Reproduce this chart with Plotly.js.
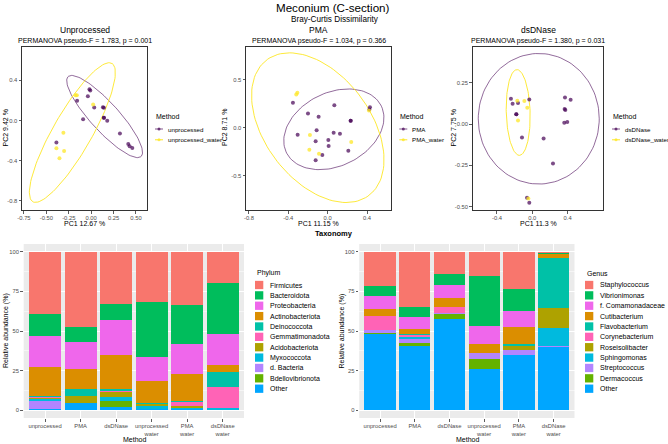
<!DOCTYPE html>
<html>
<head>
<meta charset="utf-8">
<script src="https://cdn.plot.ly/plotly-3.0.1.min.js"></script>
<style>
	html, body { margin: 0; padding: 0; background: #fff; }
	#chart { width: 668px; height: 444px; }
</style>
</head>
<body>
<div id="chart"></div>
<script>
const W = 668;
const H = 444;
const FONT = '"Liberation Sans", Arial, sans-serif';

// PCoA scores
const unprocessed_pc1 = [-0.019, -0.010, -0.037, -0.157, 0.131, 0.034, 0.142, -0.090, 0.142, 0.142, 0.179, 0.321, 0.414, 0.429, 0.459, -0.388];
const unprocessed_pc2 = [0.313, 0.300, 0.243, 0.197, 0.133, 0.130, 0.127, 0.013, 0.027, 0.027, -0.003, -0.130, -0.233, -0.257, -0.273, -0.220];
const unprocessed_water_pc1 = [-0.175, -0.160, 0.022, -0.310, -0.388, -0.302, -0.354];
const unprocessed_water_pc2 = [0.253, 0.253, 0.160, -0.123, -0.277, -0.303, -0.377];

const pma_pc1 = [-0.353, -0.200, -0.092, 0.068, 0.234, 0.234, 0.430, 0.424, -0.305, -0.112, -0.122, 0.007, 0.061, 0.125, 0.010, -0.054, -0.122, 0.210];
const pma_pc2 = [0.260, 0.149, 0.115, 0.233, 0.073, 0.073, 0.212, 0.190, -0.073, -0.028, -0.142, -0.128, -0.052, -0.062, -0.191, -0.285, -0.340, -0.240];
const pma_water_pc1 = [-0.308, -0.319, -0.180, -0.186, -0.088, 0.240, 0.420];
const pma_water_pc2 = [0.365, 0.347, -0.076, -0.229, -0.271, -0.149, 0.180];

const dsdnase_pc1 = [-0.242, -0.223, -0.162, -0.034, -0.181, -0.181, -0.117, 0.128, 0.370, 0.434, 0.366, 0.374, 0.362, 0.396, 0.234, -0.060, -0.034];
const dsdnase_pc2 = [0.153, 0.123, 0.127, 0.149, 0.060, 0.060, -0.081, -0.087, 0.161, 0.147, 0.091, 0.085, 0.008, 0.012, -0.238, -0.446, -0.476];
const dsdnase_water_pc1 = [-0.170, -0.090, -0.057, -0.162, -0.045];
const dsdnase_water_pc2 = [0.141, 0.139, 0.099, 0.022, -0.450];

// 95% ellipses: [centre pc1, centre pc2, semi-axis a, semi-axis b, angle deg]
const ellipse_unprocessed = [0.15, 0.04, 0.57, 0.15, -44];
const ellipse_unprocessed_water = [-0.21, -0.12, 0.82, 0.21, 57];
const ellipse_pma = [0.063, -0.017, 0.54, 0.38, 28];
const ellipse_pma_water = [-0.10, 0.0, 0.877, 0.541, -54.5];
const ellipse_dsdnase = [0.073, 0.032, 0.685, 0.395, 0];
const ellipse_dsdnase_water = [-0.16, 0.07, 0.26, 0.135, -86];

// taxonomy bars
const methods = ['unprocessed', 'PMA', 'dsDNase', 'unprocessed water', 'PMA water', 'dsDNase water'];
const method_labels = ['unprocessed', 'PMA', 'dsDNase', 'unprocessed<br>water', 'PMA<br>water', 'dsDNase<br>water'];

const phylum_names = ['Firmicutes', 'Bacteroidota', 'Proteobacteria', 'Actinobacteriota', 'Deinococcota', 'Gemmatimonadota', 'Acidobacteriota', 'Myxococcota', 'd. Bacteria', 'Bdellovibrionota', 'Other'];
const phylum_values = [
	[39.4, 47.4, 33.1, 31.9, 33.5, 19.9],
	[13.5, 9.6, 10.1, 34.8, 24.8, 32.1],
	[20.0, 17.2, 22.2, 14.6, 19.1, 19.3],
	[18.2, 12.4, 21.2, 14.5, 16.9, 4.6],
	[0.9, 4.2, 1.6, 0.3, 0.7, 9.8],
	[0.6, 0.2, 0.3, 0.2, 2.5, 12.8],
	[0.6, 4.2, 3.1, 0.8, 1.2, 0],
	[0.8, 0, 2.5, 2.1, 0.5, 1.2],
	[5.2, 0.6, 0, 0, 0, 0],
	[0, 0, 4.0, 0, 0, 0],
	[0.8, 4.2, 1.9, 0.8, 0.8, 0.3]
];

const genus_names = ['Staphylococcus', 'Vibrionimonas', 'f. Comamonadaceae', 'Cutibacterium', 'Flavobacterium', 'Corynebacterium', 'Roseisolibacter', 'Sphingomonas', 'Streptococcus', 'Dermacoccus', 'Other'];
const genus_values = [
	[21.6, 35.0, 14.0, 15.3, 23.5, 0.6],
	[6.3, 6.3, 7.0, 31.5, 13.6, 0.5],
	[7.9, 7.5, 8.4, 11.3, 10.1, 0.4],
	[4.7, 3.0, 5.2, 5.6, 11.1, 2.3],
	[0, 0.5, 0, 0, 1.0, 31.4],
	[8.6, 1.2, 3.8, 0, 0, 0],
	[0, 0.5, 0, 0, 2.5, 13.0],
	[0.5, 0.8, 0, 0, 0, 11.1],
	[1.4, 2.5, 1.0, 4.3, 3.6, 0.9],
	[0.8, 2.4, 2.9, 6.2, 0, 0],
	[48.2, 40.3, 57.7, 25.8, 34.6, 39.8]
];

const taxa_colors = ['#F8766D', '#00BD5C', '#EF67EB', '#DB8E00', '#00C1A7', '#FF63B6', '#AEA200', '#00BADE', '#B385FF', '#64B200', '#00A6FF'];

const PURPLE = 'rgba(68,1,84,0.7)';
const YELLOW = 'rgba(253,231,37,0.75)';

function px(x){ return x / W; }
function py(y){ return 1 - y / H; }

function ellipsePoints(p){
	var xs = [], ys = [];
	var th = p[4] * Math.PI / 180;
	for(var i = 0; i <= 120; i++){
		var t = 2 * Math.PI * i / 120;
		var u = p[2] * Math.cos(t), v = p[3] * Math.sin(t);
		xs.push(p[0] + u * Math.cos(th) - v * Math.sin(th));
		ys.push(p[1] + u * Math.sin(th) + v * Math.cos(th));
	}
	return [xs, ys];
}

function pcoaTraces(n, pts1, pts2, ell1, ell2){
	var xa = n == 1 ? 'x' : 'x' + n;
	var ya = n == 1 ? 'y' : 'y' + n;
	var e1 = ellipsePoints(ell1), e2 = ellipsePoints(ell2);
	return [
		{x: e1[0], y: e1[1], xaxis: xa, yaxis: ya, mode: 'lines', type: 'scatter', line: {color: 'rgba(68,1,84,0.65)', width: 0.9}, hoverinfo: 'skip'},
		{x: e2[0], y: e2[1], xaxis: xa, yaxis: ya, mode: 'lines', type: 'scatter', line: {color: '#FDE725', width: 0.9}, hoverinfo: 'skip'},
		{x: pts1[0], y: pts1[1], xaxis: xa, yaxis: ya, mode: 'markers', type: 'scatter', marker: {color: PURPLE, size: 4}},
		{x: pts2[0], y: pts2[1], xaxis: xa, yaxis: ya, mode: 'markers', type: 'scatter', marker: {color: YELLOW, size: 4}}
	];
}

function barTraces(n, names, values){
	var traces = [];
	for(var i = names.length - 1; i >= 0; i--){
		traces.push({
			x: methods,
			y: values[i],
			name: names[i],
			type: 'bar',
			xaxis: 'x' + n,
			yaxis: 'y' + n,
			marker: {color: taxa_colors[i], line: {width: 0}}
		});
	}
	return traces;
}

function pcoaAxis(x0, x1, range, vals, texts, anchor){
	return {
		domain: [px(x0), px(x1)],
		range: range,
		anchor: anchor,
		tickvals: vals,
		ticktext: texts,
		showgrid: false,
		zeroline: false,
		showline: true,
		mirror: true,
		linecolor: '#333333',
		linewidth: 1,
		ticks: 'outside',
		ticklen: 2.5,
		tickwidth: 0.8,
		tickcolor: '#333333',
		tickfont: {size: 5.8, color: '#4D4D4D'}
	};
}

function pcoaYAxis(y0, y1, range, vals, texts, anchor){
	var a = pcoaAxis(0, 0, range, vals, texts, anchor);
	a.domain = [py(y1), py(y0)];
	return a;
}

const traces = [].concat(
	pcoaTraces(1, [unprocessed_pc1, unprocessed_pc2], [unprocessed_water_pc1, unprocessed_water_pc2], ellipse_unprocessed, ellipse_unprocessed_water),
	pcoaTraces(2, [pma_pc1, pma_pc2], [pma_water_pc1, pma_water_pc2], ellipse_pma, ellipse_pma_water),
	pcoaTraces(3, [dsdnase_pc1, dsdnase_pc2], [dsdnase_water_pc1, dsdnase_water_pc2], ellipse_dsdnase, ellipse_dsdnase_water),
	barTraces(4, phylum_names, phylum_values),
	barTraces(5, genus_names, genus_values)
);

function barXAxis(x0, x1, anchor){
	return {
		domain: [px(x0), px(x1)],
		anchor: anchor,
		type: 'category',
		range: [-0.6, 5.6],
		tickvals: methods,
		ticktext: method_labels,
		showgrid: true,
		gridcolor: '#FFFFFF',
		gridwidth: 1,
		zeroline: false,
		showline: false,
		ticks: 'outside',
		ticklen: 2.5,
		tickwidth: 0.8,
		tickcolor: '#333333',
		tickfont: {size: 5.8, color: '#4D4D4D'}
	};
}

function barYAxis(y0, y1, anchor){
	return {
		domain: [py(y1), py(y0)],
		anchor: anchor,
		range: [-5, 105],
		tickvals: [0, 25, 50, 75, 100],
		ticktext: ['0', '25', '50', '75', '100'],
		showgrid: true,
		gridcolor: '#FFFFFF',
		gridwidth: 1,
		minor: {tickvals: [12.5, 37.5, 62.5, 87.5], showgrid: true, gridcolor: '#FFFFFF', gridwidth: 0.5},
		zeroline: false,
		showline: false,
		ticks: 'outside',
		ticklen: 2.5,
		tickwidth: 0.8,
		tickcolor: '#333333',
		tickfont: {size: 5.8, color: '#4D4D4D'}
	};
}

const annotations = [];
const shapes = [];

function addText(text, x, y, size, opts){
	var a = {
		text: text, x: px(x), y: py(y), xref: 'paper', yref: 'paper',
		xanchor: 'center', yanchor: 'middle', showarrow: false,
		font: {family: FONT, size: size, color: '#000000'}
	};
	for(var k in opts){ a[k] = opts[k]; }
	annotations.push(a);
}

// titles
addText('Meconium (C-section)', 333, 7.5, 11.6);
addText('Bray-Curtis Dissimilarity', 334.5, 19.5, 8.2);
addText('Unprocessed', 84.5, 30, 8.5);
addText('PERMANOVA pseudo-F = 1.783, p = 0.001', 84.5, 40.5, 7);
addText('PMA', 318.5, 30, 8.5);
addText('PERMANOVA pseudo-F = 1.034, p = 0.366', 318.5, 40.5, 7);
addText('dsDNase', 538, 30, 8.5);
addText('PERMANOVA pseudo-F = 1.380, p = 0.031', 538, 40.5, 7);
addText('<b>Taxonomy</b>', 334, 234, 7.5);

// axis titles
addText('PC1 12.67 %', 84.5, 224, 7);
addText('PC2 9.42 %', 5.5, 128, 7, {textangle: -90});
addText('PC1 11.15 %', 318.5, 224, 7);
addText('PC2 8.71 %', 225, 128, 7, {textangle: -90});
addText('PC1 11.3 %', 538, 224, 7);
addText('PC2 7.75 %', 453.5, 128, 7, {textangle: -90});
addText('Relative abundance (%)', 6, 331, 7, {textangle: -90});
addText('Method', 134, 439, 7);
addText('Relative abundance (%)', 341.5, 331, 7, {textangle: -90});
addText('Method', 467, 439, 7);

// method legends of the PCoA panels
function methodLegend(x, names){
	addText('Method', x, 116.7, 7, {xanchor: 'left'});
	var cols = ['rgba(68,1,84,0.65)', '#FDE725'];
	for(var i = 0; i < names.length; i++){
		var yy = 129 + i * 10.8;
		shapes.push({type: 'line', xref: 'paper', yref: 'paper', x0: px(x + 1), x1: px(x + 9), y0: py(yy), y1: py(yy), line: {color: cols[i], width: 1}});
		shapes.push({type: 'circle', xref: 'paper', yref: 'paper', x0: px(x + 3.5), x1: px(x + 6.5), y0: py(yy + 1.5), y1: py(yy - 1.5), fillcolor: i == 0 ? PURPLE : YELLOW, line: {width: 0}});
		addText(names[i], x + 12, yy, 6.2, {xanchor: 'left'});
	}
}
methodLegend(154, ['unprocessed', 'unprocessed_water']);
methodLegend(398.3, ['PMA', 'PMA_water']);
methodLegend(611, ['dsDNase', 'dsDNase_water']);

// fill legends of the bar panels
function fillLegend(x, title, names){
	addText(title, x, 273.3, 7, {xanchor: 'left'});
	for(var i = 0; i < names.length; i++){
		var yy = 285 + i * 10.37;
		shapes.push({type: 'rect', xref: 'paper', yref: 'paper', x0: px(x), x1: px(x + 8.3), y0: py(yy + 4.15), y1: py(yy - 4.15), fillcolor: taxa_colors[i], line: {width: 0}});
		addText(names[i], x + 13, yy, 7, {xanchor: 'left'});
	}
}
fillLegend(255, 'Phylum', phylum_names);
fillLegend(585, 'Genus', genus_names);

// grey panels behind the bars
shapes.push({type: 'rect', xref: 'x4 domain', yref: 'y4 domain', x0: 0, x1: 1, y0: 0, y1: 1, fillcolor: '#EBEBEB', line: {width: 0}, layer: 'below'});
shapes.push({type: 'rect', xref: 'x5 domain', yref: 'y5 domain', x0: 0, x1: 1, y0: 0, y1: 1, fillcolor: '#EBEBEB', line: {width: 0}, layer: 'below'});

const layout = {
	width: W,
	height: H,
	margin: {l: 0, r: 0, t: 0, b: 0},
	paper_bgcolor: '#FFFFFF',
	plot_bgcolor: '#FFFFFF',
	showlegend: false,
	barmode: 'stack',
	bargap: 0.1,
	font: {family: FONT, color: '#000000'},
	xaxis: pcoaAxis(22, 147, [-0.772, 0.623], [-0.75, -0.5, -0.25, 0, 0.25, 0.5], ['-0.75', '-0.50', '-0.25', '0.00', '0.25', '0.50'], 'y'),
	yaxis: pcoaYAxis(46.7, 210, [-0.893, 0.737], [-0.8, -0.4, 0, 0.4], ['-0.8', '-0.4', '0.0', '0.4'], 'x'),
	xaxis2: pcoaAxis(246, 391, [-0.83, 0.644], [-0.8, -0.4, 0, 0.4], ['-0.8', '-0.4', '0.0', '0.4'], 'y2'),
	yaxis2: pcoaYAxis(46.7, 210, [-0.858, 0.844], [-0.5, 0, 0.5], ['-0.5', '0.0', '0.5'], 'x2'),
	xaxis3: pcoaAxis(472.7, 603.3, [-0.675, 0.804], [-0.4, 0, 0.4], ['-0.4', '0.0', '0.4'], 'y3'),
	yaxis3: pcoaYAxis(46.7, 210, [-0.52, 0.468], [-0.5, -0.25, 0, 0.25], ['-0.50', '-0.25', '0.00', '0.25'], 'x3'),
	xaxis4: barXAxis(23.7, 244, 'y4'),
	yaxis4: barYAxis(244, 418, 'x4'),
	xaxis5: barXAxis(359.2, 574.5, 'y5'),
	yaxis5: barYAxis(244, 418, 'x5'),
	annotations: annotations,
	shapes: shapes
};

Plotly.newPlot('chart', traces, layout, {staticPlot: true});
</script>
</body>
</html>
